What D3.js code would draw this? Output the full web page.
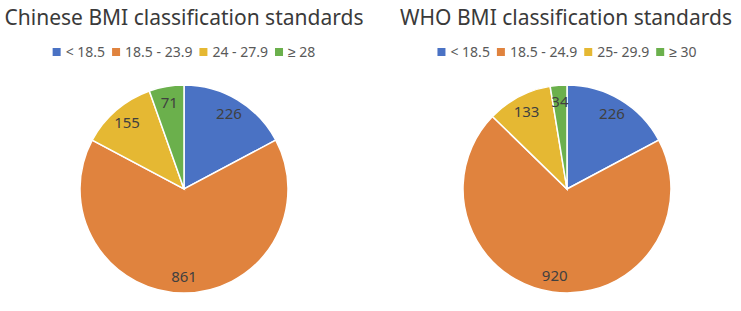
<!DOCTYPE html>
<html>
<head>
<meta charset="utf-8">
<script src="https://cdn.jsdelivr.net/npm/d3@7"></script>
<style>
  body { margin: 0; background: #fff; }
  svg { font-family: 'Noto Sans', sans-serif; }
  .title { font-size: 21px; fill: #3a3a3a; }
  .legend text { font-size: 14px; fill: #595959; }
  .label { font-size: 15px; fill: #404040; }
</style>
</head>
<body>
<div id="chart"></div>
<script>
// chart data
const colors = ['#4a72c4', '#e0833e', '#e5b833', '#6bb04c'];

const chineseLabels = ['< 18.5', '18.5 - 23.9', '24 - 27.9', '\u2265 28'];
const chineseValues = [226, 861, 155, 71];

const whoLabels = ['< 18.5', '18.5 - 24.9', '25- 29.9', '\u2265 30'];
const whoValues = [226, 920, 133, 34];

let width = 741, height = 311;

let svg = d3.select('#chart').append('svg')
    .attr('width', width)
    .attr('height', height);

function drawPie(title, labels, values, cx, titleX, legendX) {
    let radius = 104;

    svg.append('text')
        .attr('class', 'title')
        .attr('x', titleX)
        .attr('y', 25)
        .attr('text-anchor', 'middle')
        .text(title);

    // legend
    let legend = svg.append('g')
        .attr('class', 'legend');
    let offset = 0;
    labels.forEach(function(l, i) {
        let item = legend.append('g').attr('transform', 'translate(' + offset + ',0)');
        item.append('rect')
            .attr('x', 0).attr('y', -4)
            .attr('width', 8).attr('height', 8)
            .attr('fill', colors[i]);
        let t = item.append('text')
            .attr('x', 13).attr('y', 5)
            .text(l);
        offset += 13 + t.node().getComputedTextLength() + 7;
    });
    // center the legend under the title
    let bw = offset - 7;
    legend.attr('transform', 'translate(' + (legendX - bw / 2) + ',52)');

    let pie = d3.pie().sort(null).value(function(d) { return d; });
    let arc = d3.arc().innerRadius(0).outerRadius(radius);
    let labelArc = d3.arc().innerRadius(radius * 0.84).outerRadius(radius * 0.84);

    let g = svg.append('g')
        .attr('transform', 'translate(' + cx + ',189)');

    let arcs = pie(values);

    g.selectAll('path')
        .data(arcs)
        .enter().append('path')
        .attr('d', arc)
        .attr('fill', function(d, i) { return colors[i]; })
        .attr('stroke', '#fff')
        .attr('stroke-width', 1.5);

    g.selectAll('.label')
        .data(arcs)
        .enter().append('text')
        .attr('class', 'label')
        .attr('transform', function(d) { return 'translate(' + labelArc.centroid(d) + ')'; })
        .attr('text-anchor', 'middle')
        .attr('dy', '0.35em')
        .text(function(d) { return d.data; });
}

drawPie('Chinese BMI classification standards', chineseLabels, chineseValues, 184, 184, 184);
drawPie('WHO BMI classification standards', whoLabels, whoValues, 567, 566, 567);
</script>
</body>
</html>
